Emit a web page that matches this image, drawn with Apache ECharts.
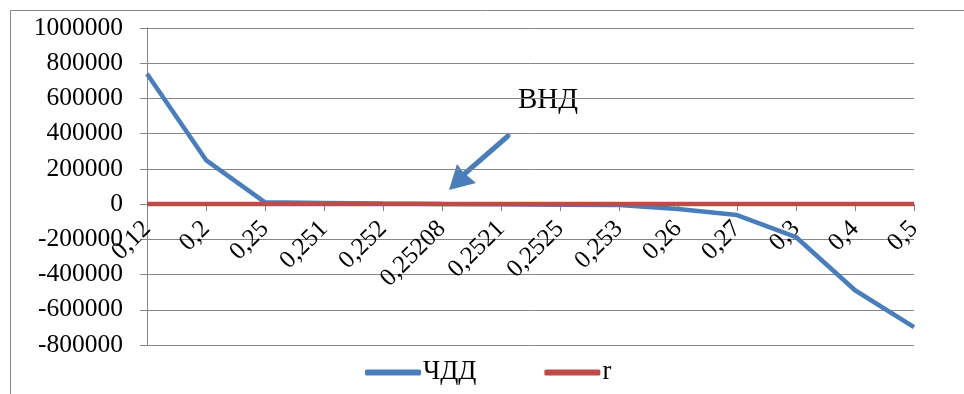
<!DOCTYPE html>
<html><head><meta charset="utf-8">
<script src="https://cdn.jsdelivr.net/npm/echarts@6/dist/echarts.min.js"></script>
<style>html,body{margin:0;padding:0;background:#fff}#c{width:964px;height:394px}</style>
</head><body><div id="c"></div>
<script>
const categories = ['0,12','0,2','0,25','0,251','0,252','0,25208','0,2521','0,2525','0,253','0,26','0,27','0,3','0,4','0,5'];
const npvValues = [740000, 250000, 10000, 7000, 3000, 0, -500, -3000, -5000, -28000, -62000, -187000, -489000, -699000];
const rValues = [0,0,0,0,0,0,0,0,0,0,0,0,0,0];
const seriesNames = ['ЧДД', 'r'];
const annotationText = 'ВНД';

const chart = echarts.init(document.getElementById('c'));
const font = '"Liberation Serif","Times New Roman",serif';
const GRID_BOTTOM = 49;
const option = {
  animation: false,
  grid: {left: 147, right: 50, top: 28, bottom: GRID_BOTTOM, containLabel: false, outerBoundsMode: 'none'},
  xAxis: {
    type: 'category', data: categories, boundaryGap: false, position: 'bottom', offset: 0,
    axisLine: {onZero: false, lineStyle: {color: '#868686', width: 1}},
    axisTick: {show: true, alignWithLabel: true, length: 7, lineStyle: {color: '#868686'}},
    axisLabel: {rotate: 45, color: '#000', fontFamily: font, fontSize: 25, margin: 21, interval: 0, hideOverlap: false},
    splitLine: {show: false}
  },
  yAxis: {
    type: 'value', min: -800000, max: 1000000, interval: 200000,
    axisLine: {show: true, lineStyle: {color: '#868686'}},
    axisTick: {show: true, length: 7, lineStyle: {color: '#868686'}},
    axisLabel: {color: '#000', fontFamily: font, fontSize: 25.5, margin: 24, formatter: v => String(v)},
    splitLine: {lineStyle: {color: '#868686', width: 1}}
  },
  legend: {
    top: 354, left: 360, itemGap: 68, itemWidth: 56, itemHeight: 6,
    textStyle: {fontFamily: font, fontSize: 26.5, color: '#000', padding: [0, 0, 0, -3]},
    data: [{name: seriesNames[0], icon: 'roundRect'}, {name: seriesNames[1], icon: 'roundRect'}]
  },
  series: [
    {name: seriesNames[0], type: 'line', data: npvValues, showSymbol: false, symbol: 'none',
     lineStyle: {color: '#4a7ebb', width: 4.5}, itemStyle: {color: '#4a7ebb'}, z: 2},
    {name: seriesNames[1], type: 'line', data: rValues, showSymbol: false, symbol: 'none',
     lineStyle: {color: '#be4b48', width: 4.5}, itemStyle: {color: '#be4b48'}, z: 3}
  ],
  graphic: [
    {type: 'rect', shape: {x: 10.5, y: 10.5, width: 990, height: 420}, style: {fill: 'none', stroke: '#888', lineWidth: 1}, silent: true},
    {type: 'text', left: 518, top: 86, style: {text: annotationText, fontFamily: font, fontSize: 29, fill: '#000'}},
    {type: 'line', shape: {x1: 508, y1: 136, x2: 462, y2: 176}, style: {stroke: '#4a7ebb', lineWidth: 5, lineCap: 'round'}},
    {type: 'polygon', shape: {points: [[449, 190], [457, 164], [463, 172], [476, 183]]}, style: {fill: '#4a7ebb'}}
  ]
};
chart.setOption(option);
// move the category axis to the zero level using the library's own scale
const zeroY = chart.convertToPixel({yAxisIndex: 0}, 0);
const bottomY = 394 - GRID_BOTTOM;
chart.setOption({xAxis: {offset: zeroY - bottomY}});
</script></body></html>
